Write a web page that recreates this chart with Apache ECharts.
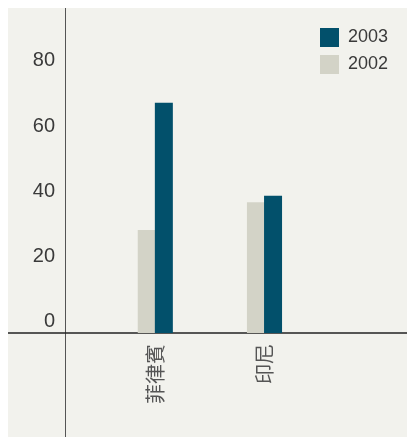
<!DOCTYPE html>
<html>
<head>
<meta charset="utf-8">
<script src="https://cdn.jsdelivr.net/npm/echarts@6/dist/echarts.min.js"></script>
<style>
  html, body { margin: 0; padding: 0; background: #ffffff; }
  #main { position: absolute; left: 8px; top: 8px; width: 399px; height: 429px; }
</style>
</head>
<body>
<div id="main"></div>
<script>
var categories = ["菲律賓", "印尼"];
var values2002 = [31.5, 40];
var values2003 = [70.5, 42];
var yTicks = [0, 20, 40, 60, 80];

var chartDom = document.getElementById("main");
var myChart = echarts.init(chartDom);
var option;

var yMin = -31.85;
var yMax = 99.5;

option = {
  backgroundColor: "#f2f2ed",
  animation: false,
  legend: {
    orient: "vertical",
    left: 307,
    top: 15,
    itemWidth: 19,
    itemHeight: 19,
    itemGap: 8,
    icon: "rect",
    data: ["2003", "2002"],
    textStyle: { fontSize: 18, color: "#3a3a3a", fontFamily: "Liberation Sans", padding: [0, 0, 0, 4] },
  },
  grid: [
    // bars
    { left: 92.7, right: 87.9, top: 0, bottom: 0, outerBoundsMode: "none", containLabel: false },
    // axis lines across the whole panel
    { left: 0, right: 0, top: 0, bottom: 0, outerBoundsMode: "none", containLabel: false },
  ],
  xAxis: [
    {
      type: "category",
      gridIndex: 0,
      data: categories,
      position: "bottom",
      offset: -104, // move labels up to the zero line
      axisLine: { show: false, onZero: false },
      axisTick: { show: false },
      axisLabel: {
        rotate: 90,
        margin: 11,
        fontSize: 20,
        color: "#555",
        fontFamily: "Noto Sans CJK TC",
      },
    },
    {
      type: "value",
      gridIndex: 1,
      min: 0,
      max: 1,
      axisLine: { show: true, lineStyle: { color: "#222", width: 1.5 } },
      axisTick: { show: false },
      axisLabel: { show: false },
      splitLine: { show: false },
    },
  ],
  yAxis: [
    {
      type: "value",
      gridIndex: 0,
      min: yMin,
      max: yMax,
      axisLine: { show: false },
      axisTick: { show: false },
      axisLabel: { show: false },
      splitLine: { show: false },
    },
    {
      type: "value",
      gridIndex: 1,
      min: yMin,
      max: yMax,
      offset: -57,
      axisLine: { show: true, onZero: false, lineStyle: { color: "#555", width: 1 } },
      axisTick: { show: false },
      splitLine: { show: false },
      axisLabel: {
        customValues: yTicks,
        margin: 10,
        fontSize: 20,
        color: "#3a3a3a",
        fontFamily: "Liberation Sans",
        verticalAlign: "bottom",
        lineHeight: 22,
      },
    },
  ],
  series: [
    {
      name: "2002",
      type: "bar",
      xAxisIndex: 0,
      yAxisIndex: 0,
      barWidth: 18,
      barGap: "-5%",
      itemStyle: { color: "#d3d3c7" },
      data: values2002,
    },
    {
      name: "2003",
      type: "bar",
      xAxisIndex: 0,
      yAxisIndex: 0,
      barWidth: 18,
      itemStyle: { color: "#02506b" },
      data: values2003,
    },
  ],
};

option && myChart.setOption(option);
</script>
</body>
</html>
